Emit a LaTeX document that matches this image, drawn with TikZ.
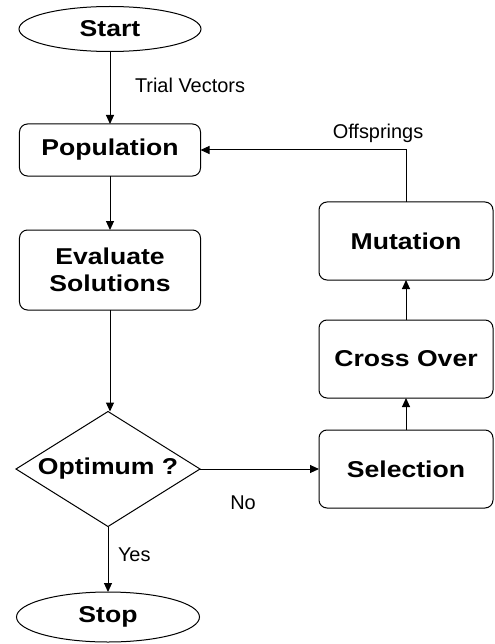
\documentclass[tikz,border=0pt]{standalone}
\usepackage{fontspec}
\setmainfont{Liberation Sans}
\newfontfamily\widebold[FakeStretch=1.16]{Liberation Sans Bold}
\usetikzlibrary{shapes.geometric,arrows.meta}
\begin{document}
\begin{tikzpicture}[x=1bp,y=-1bp,
  every node/.style={inner sep=0pt, outer sep=0pt},
  boldtext/.style={font=\widebold\fontsize{23}{27}\selectfont},
  boxnode/.style={draw, rounded corners=8bp, line width=1bp, align=center, boldtext},
  termnode/.style={draw, ellipse, line width=1bp, boldtext},
  decnode/.style={draw, diamond, line width=1bp},
  lbl/.style={font=\fontsize{20}{24}\selectfont},
  arr/.style={line width=1bp, -{Triangle[length=9bp,width=8bp]}}]
\useasboundingbox (0,0) rectangle (495,644);
\node[termnode, minimum width=182bp, minimum height=45bp] (start) at (110,29) {Start};
\node[boxnode, minimum width=181bp, minimum height=52bp] (pop) at (110,150) {Population};
\node[boxnode, minimum width=181bp, minimum height=80bp] (eval) at (110,270) {Evaluate\\Solutions};
\node[decnode, minimum width=184bp, minimum height=115bp] (opt) at (108,469) {};
\node[boldtext] (opttext) at (opt.center) {Optimum ?};
\node[termnode, minimum width=183bp, minimum height=50bp] (stop) at (108,617) {Stop};
\node[boxnode, minimum width=174bp, minimum height=78bp] (mut) at (406,241) {Mutation};
\node[boxnode, minimum width=174bp, minimum height=78bp] (cross) at (406,359) {Cross Over};
\node[boxnode, minimum width=174bp, minimum height=78bp] (sel) at (406,469) {Selection};
\draw[arr] (start.south) -- (start.south |- pop.north);
\draw[arr] (pop.south) -- (pop.south |- eval.north);
\draw[arr] (eval.south) -- (eval.south |- opt.north);
\draw[arr] (opt.south) -- (opt.south |- stop.north);
\draw[arr] (opt.east) -- (sel.west);
\draw[arr] (sel.north) -- (cross.south);
\draw[arr] (cross.north) -- (mut.south);
\draw[arr] (mut.north) |- (pop.east);
\node[lbl, anchor=west] (tv) at (135,85) {Trial Vectors};
\node[lbl] (off) at (378,133) {Offsprings};
\node[lbl] (no) at (243,503) {No};
\node[lbl, anchor=west] (yes) at (118,555) {Yes};
\end{tikzpicture}
\end{document}
